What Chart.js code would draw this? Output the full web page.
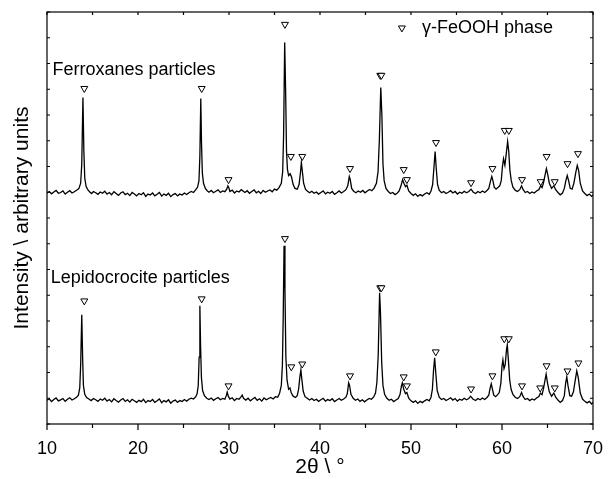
<!DOCTYPE html>
<html>
<head>
<meta charset="utf-8">
<script src="https://cdn.jsdelivr.net/npm/chart.js@4.4.1/dist/chart.umd.min.js"></script>
<style>
  body { margin: 0; background: #fff; }
  canvas { display: block; }
</style>
</head>
<body>
<canvas id="xrdChart" width="609" height="479"></canvas>
<script>
// 2theta range and intensity range (arbitrary units)
const thetaMin = 10;
const thetaMax = 70;
const countsMax = 1600;

// Ferroxanes particles scan [2theta, counts]
const ferroxanesScan = [
  [10.0, 897], [10.25, 903], [10.5, 894], [10.75, 901], [11.0, 907], [11.25, 896], [11.5, 899], [11.75, 905],
  [12.0, 893], [12.25, 900], [12.5, 906], [12.75, 897], [13.0, 902], [13.25, 908], [13.5, 914], [13.7, 935],
  [13.82, 1010], [13.95, 1268], [14.05, 1060], [14.15, 955], [14.3, 922], [14.5, 909], [14.7, 901], [14.9, 895],
  [15.1, 903], [15.35, 898], [15.6, 892], [15.85, 901], [16.1, 896], [16.35, 904], [16.6, 893], [16.85, 899],
  [17.1, 890], [17.35, 902], [17.6, 895], [17.85, 888], [18.1, 897], [18.35, 902], [18.6, 891], [18.85, 896],
  [19.1, 887], [19.35, 899], [19.6, 893], [19.85, 886], [20.1, 895], [20.35, 890], [20.6, 898], [20.85, 884],
  [21.1, 893], [21.35, 889], [21.6, 897], [21.85, 886], [22.1, 892], [22.35, 899], [22.6, 885], [22.85, 893],
  [23.1, 888], [23.35, 896], [23.6, 883], [23.85, 891], [24.1, 895], [24.35, 886], [24.6, 893], [24.85, 889],
  [25.1, 897], [25.35, 891], [25.6, 898], [25.85, 903], [26.1, 899], [26.35, 910], [26.55, 920], [26.7, 945],
  [26.8, 1040], [26.9, 1264], [26.98, 1090], [27.07, 975], [27.2, 935], [27.4, 915], [27.6, 906], [27.8, 900],
  [28.05, 907], [28.3, 898], [28.55, 904], [28.8, 909], [29.05, 899], [29.3, 905], [29.55, 902], [29.75, 912],
  [29.88, 925], [29.98, 918], [30.1, 903], [30.35, 908], [30.6, 897], [30.85, 905], [31.1, 901], [31.35, 910],
  [31.5, 906], [31.75, 899], [32.0, 906], [32.25, 896], [32.5, 903], [32.75, 909], [33.0, 898], [33.25, 904],
  [33.5, 895], [33.75, 907], [34.0, 900], [34.25, 905], [34.5, 909], [34.75, 902], [35.0, 912], [35.25, 908],
  [35.5, 918], [35.75, 935], [35.9, 980], [36.0, 1120], [36.12, 1482], [36.22, 1300], [36.32, 1060], [36.42, 990],
  [36.55, 965], [36.72, 972], [36.88, 958], [37.05, 930], [37.25, 915], [37.5, 912], [37.7, 930], [37.85, 975],
  [37.95, 1015], [38.05, 985], [38.2, 935], [38.4, 912], [38.6, 905], [38.85, 898], [39.1, 904], [39.35, 896],
  [39.6, 901], [39.85, 893], [40.1, 899], [40.35, 905], [40.6, 894], [40.85, 900], [41.1, 896], [41.35, 903],
  [41.6, 892], [41.85, 898], [42.1, 905], [42.35, 897], [42.6, 903], [42.85, 910], [43.05, 925], [43.22, 961],
  [43.32, 950], [43.48, 915], [43.7, 904], [43.95, 898], [44.2, 905], [44.45, 900], [44.7, 907], [44.95, 898],
  [45.2, 905], [45.45, 911], [45.7, 906], [45.95, 916], [46.2, 935], [46.38, 980], [46.52, 1100], [46.68, 1307],
  [46.8, 1200], [46.92, 1010], [47.05, 945], [47.25, 915], [47.5, 903], [47.75, 895], [48.0, 899], [48.25, 891],
  [48.5, 897], [48.7, 905], [48.9, 925], [49.08, 949], [49.22, 935], [49.4, 922], [49.55, 927], [49.75, 905],
  [50.0, 895], [50.25, 888], [50.5, 894], [50.75, 884], [51.0, 891], [51.25, 886], [51.5, 893], [51.75, 898],
  [52.0, 892], [52.2, 905], [52.38, 930], [52.52, 995], [52.65, 1058], [52.78, 990], [52.92, 930], [53.1, 908],
  [53.35, 898], [53.6, 903], [53.85, 895], [54.1, 900], [54.35, 906], [54.6, 897], [54.85, 903], [55.1, 893],
  [55.35, 900], [55.6, 896], [55.85, 904], [56.1, 898], [56.35, 903], [56.6, 912], [56.85, 900], [57.1, 895],
  [57.35, 903], [57.6, 898], [57.85, 905], [58.1, 899], [58.35, 907], [58.55, 915], [58.75, 945], [58.88, 961],
  [59.0, 945], [59.15, 920], [59.35, 912], [59.55, 918], [59.75, 925], [59.92, 945], [60.05, 1000], [60.17, 1030],
  [60.32, 1005], [60.47, 1050], [60.62, 1097], [60.74, 1060], [60.87, 985], [61.02, 945], [61.2, 920], [61.45, 908],
  [61.7, 903], [61.95, 910], [62.15, 925], [62.3, 912], [62.55, 899], [62.8, 903], [63.05, 895], [63.3, 901],
  [63.55, 897], [63.8, 905], [64.05, 910], [64.25, 925], [64.4, 918], [64.55, 935], [64.72, 965], [64.88, 992],
  [65.02, 970], [65.2, 935], [65.45, 915], [65.7, 925], [65.9, 910], [66.15, 899], [66.4, 890], [66.65, 897],
  [66.85, 915], [67.02, 945], [67.17, 965], [67.32, 945], [67.5, 915], [67.7, 912], [67.9, 935], [68.1, 975],
  [68.27, 1004], [68.42, 985], [68.6, 935], [68.85, 905], [69.1, 895], [69.35, 887], [69.6, 893], [69.85, 884],
  [70.0, 890]
];

// Lepidocrocite particles scan [2theta, counts]
const lepidocrociteScan = [
  [10.0, 92], [10.25, 98], [10.5, 87], [10.75, 95], [11.0, 101], [11.25, 90], [11.5, 94], [11.75, 99],
  [12.0, 88], [12.25, 96], [12.5, 102], [12.75, 93], [13.0, 98], [13.25, 104], [13.45, 112], [13.6, 140],
  [13.7, 230], [13.82, 424], [13.92, 250], [14.0, 150], [14.15, 115], [14.35, 103], [14.6, 97], [14.85, 91],
  [15.1, 99], [15.35, 94], [15.6, 88], [15.85, 97], [16.1, 92], [16.35, 100], [16.6, 89], [16.85, 95],
  [17.1, 86], [17.35, 98], [17.6, 91], [17.85, 85], [18.1, 93], [18.35, 99], [18.6, 88], [18.85, 94],
  [19.1, 85], [19.35, 96], [19.6, 90], [19.85, 84], [20.1, 92], [20.35, 87], [20.6, 96], [20.85, 83],
  [21.1, 91], [21.35, 87], [21.6, 95], [21.85, 84], [22.1, 90], [22.35, 97], [22.6, 83], [22.85, 91],
  [23.1, 86], [23.35, 94], [23.6, 81], [23.85, 89], [24.1, 93], [24.35, 84], [24.6, 91], [24.85, 87],
  [25.1, 95], [25.35, 89], [25.6, 96], [25.85, 100], [26.1, 97], [26.35, 106], [26.5, 118], [26.62, 150],
  [26.72, 260], [26.8, 459], [26.88, 300], [26.97, 180], [27.1, 130], [27.3, 110], [27.55, 100], [27.8, 95],
  [28.05, 101], [28.3, 92], [28.55, 98], [28.8, 103], [29.05, 94], [29.3, 99], [29.55, 96], [29.7, 110],
  [29.8, 124], [29.92, 108], [30.1, 97], [30.35, 102], [30.6, 91], [30.85, 99], [31.1, 96], [31.3, 104],
  [31.45, 112], [31.6, 100], [31.85, 93], [32.1, 100], [32.35, 90], [32.6, 97], [32.85, 103], [33.1, 92],
  [33.35, 98], [33.6, 89], [33.85, 101], [34.1, 94], [34.35, 99], [34.6, 103], [34.85, 97], [35.1, 106],
  [35.35, 104], [35.55, 118], [35.75, 150], [35.87, 230], [35.96, 420], [36.05, 692], [36.15, 520], [36.25, 260],
  [36.38, 170], [36.55, 135], [36.7, 140], [36.85, 120], [37.05, 108], [37.3, 103], [37.5, 110], [37.65, 135],
  [37.78, 180], [37.9, 210], [38.0, 175], [38.15, 128], [38.35, 106], [38.6, 100], [38.85, 93], [39.1, 99],
  [39.35, 91], [39.6, 96], [39.85, 88], [40.1, 94], [40.35, 100], [40.6, 89], [40.85, 95], [41.1, 91],
  [41.35, 98], [41.6, 87], [41.85, 93], [42.1, 99], [42.35, 92], [42.6, 97], [42.85, 104], [43.0, 118],
  [43.15, 160], [43.25, 150], [43.4, 115], [43.65, 100], [43.9, 92], [44.15, 97], [44.4, 88], [44.65, 94],
  [44.9, 86], [45.15, 93], [45.4, 99], [45.65, 96], [45.9, 105], [46.1, 120], [46.25, 160], [46.4, 270],
  [46.55, 510], [46.65, 430], [46.78, 240], [46.92, 150], [47.1, 115], [47.35, 100], [47.6, 92], [47.85, 96],
  [48.1, 87], [48.35, 93], [48.6, 99], [48.8, 115], [48.95, 148], [49.05, 160], [49.2, 135], [49.4, 118],
  [49.55, 122], [49.75, 100], [50.0, 90], [50.25, 84], [50.5, 90], [50.75, 80], [51.0, 88], [51.25, 83],
  [51.5, 90], [51.75, 95], [52.0, 90], [52.2, 104], [52.35, 135], [52.48, 210], [52.6, 257], [52.72, 200],
  [52.88, 130], [53.1, 104], [53.35, 95], [53.6, 99], [53.85, 91], [54.1, 96], [54.35, 102], [54.6, 93],
  [54.85, 99], [55.1, 89], [55.35, 96], [55.6, 92], [55.85, 100], [56.1, 94], [56.35, 99], [56.55, 108],
  [56.8, 97], [57.1, 91], [57.35, 99], [57.6, 94], [57.85, 101], [58.1, 95], [58.35, 103], [58.55, 112],
  [58.7, 140], [58.82, 156], [58.95, 135], [59.1, 112], [59.3, 106], [59.5, 113], [59.7, 122], [59.88, 160],
  [60.0, 225], [60.1, 249], [60.22, 215], [60.35, 230], [60.5, 290], [60.58, 307], [60.7, 250], [60.85, 170],
  [61.0, 135], [61.2, 115], [61.45, 104], [61.7, 99], [61.95, 106], [62.15, 122], [62.3, 108], [62.55, 95],
  [62.8, 99], [63.05, 91], [63.3, 97], [63.55, 93], [63.8, 101], [64.05, 107], [64.22, 120], [64.4, 114],
  [64.55, 135], [64.7, 165], [64.85, 194], [65.0, 160], [65.2, 125], [65.45, 108], [65.7, 120], [65.9, 104],
  [66.15, 93], [66.4, 84], [66.65, 91], [66.85, 110], [67.0, 160], [67.12, 183], [67.25, 150], [67.45, 110],
  [67.65, 108], [67.85, 125], [68.05, 170], [68.22, 206], [68.38, 180], [68.6, 120], [68.85, 97], [69.1, 88],
  [69.35, 82], [69.6, 88], [69.85, 78], [70.0, 84]
];

// gamma-FeOOH reflections marked above each pattern [2theta, counts]
const ferroxanesMarks = [
  [14.1, 1303], [27.0, 1303], [29.95, 949], [36.15, 1552], [36.8, 1039], [38.05, 1039], [43.3, 992],
  [46.62, 1354], [46.75, 1354], [49.2, 988], [49.55, 949], [52.75, 1093], [56.6, 937], [58.95, 992],
  [60.3, 1140], [60.75, 1140], [62.2, 949], [64.25, 941], [64.9, 1039], [65.8, 941], [67.2, 1011], [68.35, 1050]
];
const lepidocrociteMarks = [
  [14.1, 478], [27.0, 486], [29.95, 148], [36.15, 720], [36.85, 222], [38.05, 233], [43.3, 187],
  [46.62, 529], [46.75, 529], [49.2, 183], [49.55, 148], [52.72, 280], [56.6, 136], [58.95, 187],
  [60.25, 331], [60.75, 331], [62.2, 148], [64.2, 140], [64.9, 226], [65.8, 140], [67.2, 206], [68.4, 237]
];

// text annotations, anchored in data coordinates
const seriesLabels = [
  { text: 'Ferroxanes particles', theta: 10.6, counts: 1374 },
  { text: 'Lepidocrocite particles', theta: 10.4, counts: 568 }
];
const legendMark = { theta: 49.0, counts: 1538 };
const legendText = { text: 'γ-FeOOH phase', theta: 51.2, counts: 1538 };

const fontFamily = "'Liberation Sans', Arial, sans-serif";
const toXY = p => ({ x: p[0], y: p[1] });

const markStyle = {
  pointStyle: 'triangle',
  rotation: 180,
  radius: 4,
  borderWidth: 1
};

const framePlugin = {
  id: 'frame',
  afterDraw(chart) {
    const { ctx, chartArea: a, scales: { x, y } } = chart;
    ctx.save();
    ctx.strokeStyle = '#000';
    ctx.lineWidth = 1.2;
    ctx.strokeRect(a.left, a.top, a.right - a.left, a.bottom - a.top);

    ctx.beginPath();
    x.ticks.forEach(t => {
      const px = x.getPixelForValue(t.value);
      const major = t.value % 10 === 0;
      ctx.moveTo(px, a.bottom);
      ctx.lineTo(px, a.bottom + (major ? 6 : 4));
      ctx.moveTo(px, a.top);
      ctx.lineTo(px, a.top + 3);
    });
    y.ticks.forEach(t => {
      const py = y.getPixelForValue(t.value);
      ctx.moveTo(a.left, py);
      ctx.lineTo(a.left + 3, py);
      ctx.moveTo(a.right, py);
      ctx.lineTo(a.right - 3, py);
    });
    ctx.stroke();

    // series names
    ctx.fillStyle = '#000';
    ctx.font = '18px ' + fontFamily;
    ctx.textAlign = 'left';
    ctx.textBaseline = 'middle';
    seriesLabels.forEach(l => {
      ctx.fillText(l.text, x.getPixelForValue(l.theta), y.getPixelForValue(l.counts));
    });

    // legend
    ctx.fillText(legendText.text, x.getPixelForValue(legendText.theta), y.getPixelForValue(legendText.counts));
    ctx.fillStyle = '#fff';
    ctx.strokeStyle = '#000';
    ctx.lineWidth = 1;
    Chart.helpers.drawPoint(ctx, markStyle,
      x.getPixelForValue(legendMark.theta), y.getPixelForValue(legendMark.counts));
    ctx.restore();
  }
};

const lineSet = (data) => ({
  type: 'scatter',
  data: data.map(toXY),
  showLine: true,
  borderColor: '#000',
  borderWidth: 1.3,
  pointRadius: 0,
  tension: 0
});

const markSet = (data) => ({
  type: 'scatter',
  data: data.map(toXY),
  showLine: false,
  pointStyle: 'triangle',
  rotation: 180,
  pointRadius: 4,
  pointBorderWidth: 1,
  borderColor: '#000',
  backgroundColor: '#fff'
});

new Chart(document.getElementById('xrdChart'), {
  type: 'scatter',
  data: {
    datasets: [
      lineSet(ferroxanesScan),
      lineSet(lepidocrociteScan),
      markSet(ferroxanesMarks),
      markSet(lepidocrociteMarks)
    ]
  },
  options: {
    responsive: false,
    animation: false,
    layout: { padding: { top: 12, right: 10, left: 0, bottom: 0 } },
    plugins: {
      legend: { display: false },
      tooltip: { enabled: false }
    },
    scales: {
      x: {
        type: 'linear',
        min: thetaMin,
        max: thetaMax,
        grid: { display: false },
        border: { display: false },
        ticks: {
          stepSize: 5,
          autoSkip: false,
          maxRotation: 0,
          padding: 6,
          color: '#000',
          font: { family: fontFamily, size: 18 },
          callback: v => (v % 10 === 0 ? v : '')
        },
        title: {
          display: true,
          text: '2θ \\ °',
          color: '#000',
          font: { family: fontFamily, size: 21, lineHeight: 1 },
          padding: { top: 0, bottom: 1 }
        },
        afterFit: s => { s.height = 55; }
      },
      y: {
        min: 0,
        max: countsMax,
        grid: { display: false },
        border: { display: false },
        ticks: { stepSize: 100, display: false },
        title: {
          display: true,
          text: 'Intensity \\ arbitrary units',
          color: '#000',
          font: { family: fontFamily, size: 21, lineHeight: 1 },
          padding: { top: 12, bottom: 0 }
        },
        afterFit: s => { s.width = 47; }
      }
    }
  },
  plugins: [framePlugin]
});
</script>
</body>
</html>
